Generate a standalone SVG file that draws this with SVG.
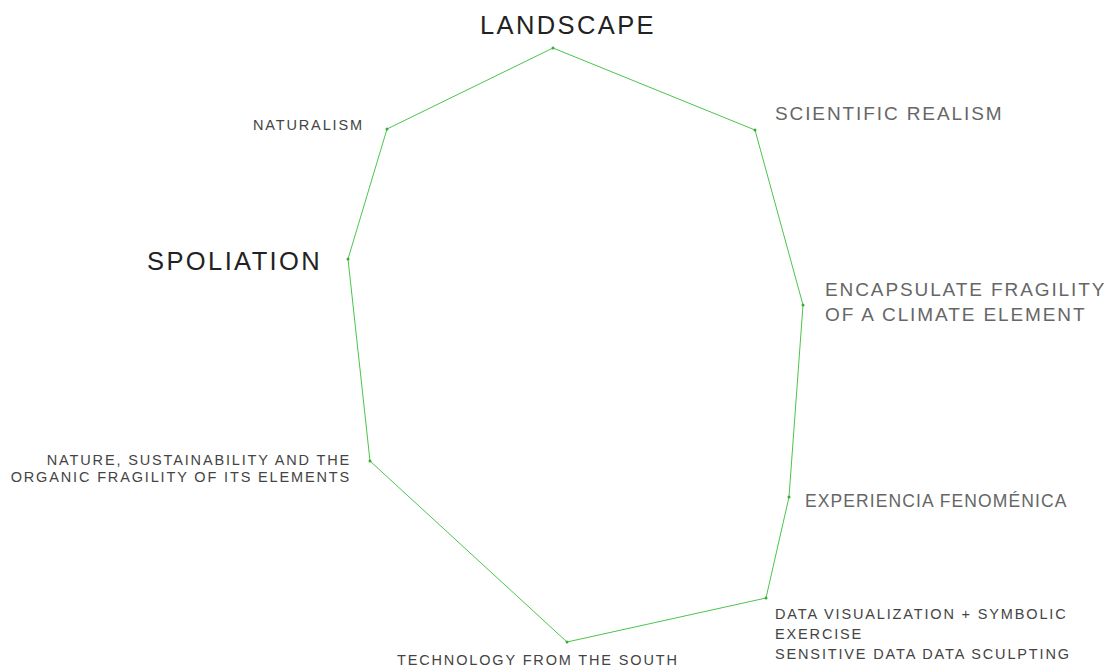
<svg xmlns="http://www.w3.org/2000/svg" width="1113" height="667" viewBox="0 0 1113 667">
<style>
text{font-family:"Liberation Sans",Arial,sans-serif}
.big{font-size:25.5px;fill:#222;letter-spacing:2.4px}
.mid{font-size:19px;fill:#666;letter-spacing:1.9px}
.sm{font-size:14.5px;fill:#444;letter-spacing:1.85px}
.edge{fill:none;stroke:#4cc44c;stroke-width:1}
.v{fill:#3aaa3a}
</style>
<rect width="1113" height="667" fill="#fff"/>
<g id="connectors">
<polygon class="edge" points="553,48 755,130 803,305 789,497 766,598 567,642 370,461 348,259 387,129"/>
</g>
<g id="n-landscape"><circle class="v" cx="553" cy="48" r="1.5"/><text class="big" x="568" y="34" text-anchor="middle">LANDSCAPE</text></g>
<g id="n-scientific"><circle class="v" cx="755" cy="130" r="1.5"/><text class="mid" x="775" y="120">SCIENTIFIC REALISM</text></g>
<g id="n-encapsulate"><circle class="v" cx="803" cy="305" r="1.5"/><text class="mid" x="825" y="296">ENCAPSULATE FRAGILITY</text><text class="mid" x="825" y="321">OF A CLIMATE ELEMENT</text></g>
<g id="n-experiencia"><circle class="v" cx="789" cy="497" r="1.5"/><text class="mid" style="font-size:17.5px;letter-spacing:1.1px" x="805" y="507">EXPERIENCIA FENOMÉNICA</text></g>
<g id="n-data"><circle class="v" cx="766" cy="598" r="1.5"/><text class="sm" x="775" y="619">DATA VISUALIZATION + SYMBOLIC</text><text class="sm" x="775" y="639">EXERCISE</text><text class="sm" x="775" y="659">SENSITIVE DATA DATA SCULPTING</text></g>
<g id="n-technology"><circle class="v" cx="567" cy="642" r="1.5"/><text class="sm" x="397" y="665">TECHNOLOGY FROM THE SOUTH</text></g>
<g id="n-nature"><circle class="v" cx="370" cy="461" r="1.5"/><text class="sm" x="351" y="465" text-anchor="end">NATURE, SUSTAINABILITY AND THE</text><text class="sm" x="351" y="482" text-anchor="end">ORGANIC FRAGILITY OF ITS ELEMENTS</text></g>
<g id="n-spoliation"><circle class="v" cx="348" cy="259" r="1.5"/><text class="big" x="147" y="270">SPOLIATION</text></g>
<g id="n-naturalism"><circle class="v" cx="387" cy="129" r="1.5"/><text class="sm" x="253" y="130">NATURALISM</text></g>
</svg>
